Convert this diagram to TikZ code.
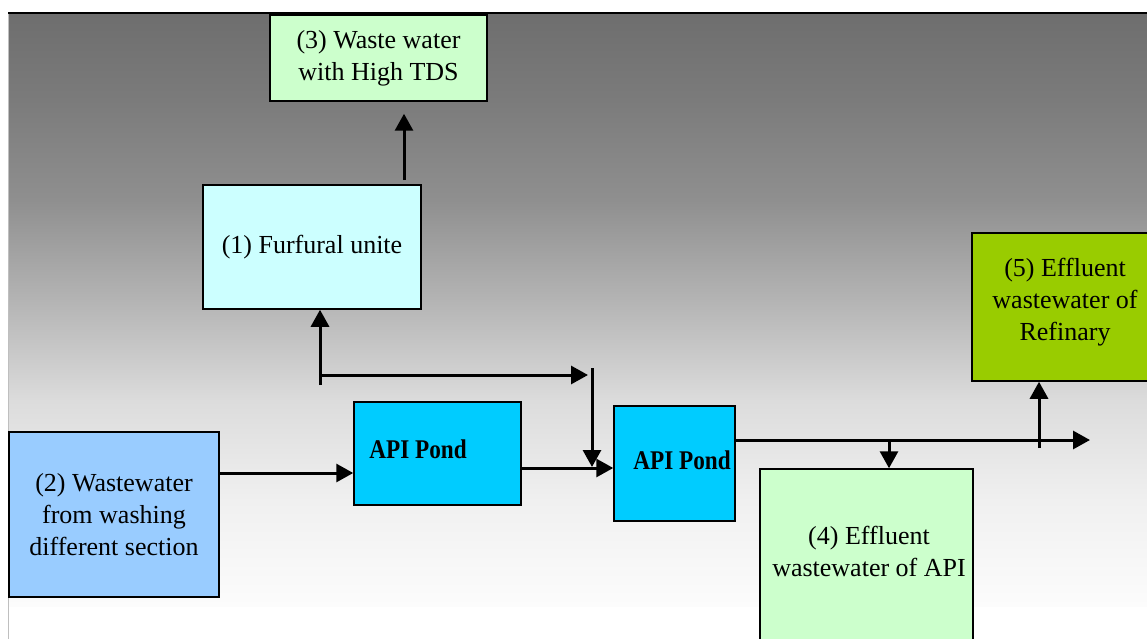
\documentclass[tikz,border=0pt]{standalone}
\usepackage{fontspec}
\usepackage{graphicx}
\setmainfont{Liberation Serif}
\usetikzlibrary{arrows.meta}
\definecolor{gA}{HTML}{FCFCFC}
\definecolor{gB}{HTML}{F0F0F0}
\definecolor{gC}{HTML}{DCDCDC}
\definecolor{gD}{HTML}{B4B4B4}
\definecolor{gE}{HTML}{8F8F8F}
\definecolor{gF}{HTML}{7B7B7B}
\definecolor{gG}{HTML}{6E6E6E}
\definecolor{paleGreen}{HTML}{CCFFCC}
\definecolor{paleCyan}{HTML}{CCFFFF}
\definecolor{skyBlue}{HTML}{99CCFF}
\definecolor{pondBlue}{HTML}{00CCFF}
\definecolor{limeGreen}{HTML}{99CC00}
\pgfdeclareverticalshading{bggrad}{100bp}{color(0bp)=(gA); color(25bp)=(gA); color(33.9bp)=(gB); color(42.3bp)=(gC); color(50.8bp)=(gD); color(59.3bp)=(gE); color(67.7bp)=(gF); color(75bp)=(gG); color(100bp)=(gG)}
\tikzset{
  box/.style={draw=black, line width=1.5pt, rectangle, inner sep=0pt, align=center,
    font=\fontsize{26}{32}\selectfont},
  pondtext/.style={font=\fontsize{27}{32}\selectfont\bfseries},
  arr/.style={line width=3pt, -{Triangle[length=17pt,width=18pt]}},
  plain/.style={line width=3pt}
}
\newcommand{\pondlabel}{\scalebox{0.86}[1]{API Pond}}
\begin{document}
\begin{tikzpicture}[x=1pt,y=-1pt]
\useasboundingbox (0,0) rectangle (1147,639);
% background
\fill[white] (0,0) rectangle (1147,639);
\shade[shading=bggrad] (8,14) rectangle (1147,606);
\draw[black!25, line width=1pt] (8.5,14) -- (8.5,639);
\draw[black, line width=2.5pt] (8,13) -- (1147,13);
% boxes
\node[box, fill=paleGreen, minimum width=217pt, minimum height=86pt] (b3) at (378.5,58) {(3) Waste water\\with High TDS};
\node[box, fill=paleCyan, minimum width=218pt, minimum height=124pt] (b1) at (312,247) {(1) Furfural unite};
\node[box, fill=skyBlue, minimum width=210pt, minimum height=165pt] (b2) at (114,514.5) {(2) Wastewater\\from washing\\different section};
\node[box, fill=pondBlue, minimum width=167pt, minimum height=103pt,
  label={[pondtext, xshift=-19.5pt, yshift=4.5pt]center:\pondlabel}] (p1) at (437.5,453.5) {};
\node[box, fill=pondBlue, minimum width=121pt, minimum height=115pt,
  label={[pondtext, xshift=7.5pt, yshift=3.5pt]center:\pondlabel}] (p2) at (674.5,463.5) {};
\node[box, fill=paleGreen, minimum width=213pt, minimum height=181pt,
  label={[box, draw=none, xshift=2.5pt, yshift=8pt]center:(4) Effluent\\wastewater of API}] (b4) at (866.5,559.5) {};
\node[box, fill=limeGreen, minimum width=180pt, minimum height=148pt,
  label={[box, draw=none, xshift=3pt, yshift=5pt]center:(5) Effluent\\wastewater of\\Refinary}] (b5) at (1062,307) {};
% junction coordinates
\coordinate (c13) at (404,180);
\coordinate (j1) at (320,385);
\coordinate (j2) at (320,375);
\coordinate (j2e) at (588,375);
\coordinate (v1) at (592,368);
\coordinate (v1e) at (592,467);
\coordinate (a2) at (219,473);
\coordinate (a3) at (521,468);
\coordinate (a4) at (736,440);
\coordinate (a4e) at (1090,440);
\coordinate (d4) at (889,440);
\coordinate (u5) at (1039,448);
% connectors
\draw[arr, shorten >=12pt] (c13) -- (c13 |- b3.south);
\draw[arr] (j1) -- (j1 |- b1.south);
\draw[arr] (j2) -- (j2e);
\draw[arr] (v1) -- (v1e);
\draw[arr] (a2) -- (a2 -| p1.west);
\draw[arr] (a3) -- (a3 -| p2.west);
\draw[arr] (a4) -- (a4e);
\draw[arr] (d4) -- (d4 |- b4.north);
\draw[arr] (u5) -- (u5 |- b5.south);
\end{tikzpicture}
\end{document}
